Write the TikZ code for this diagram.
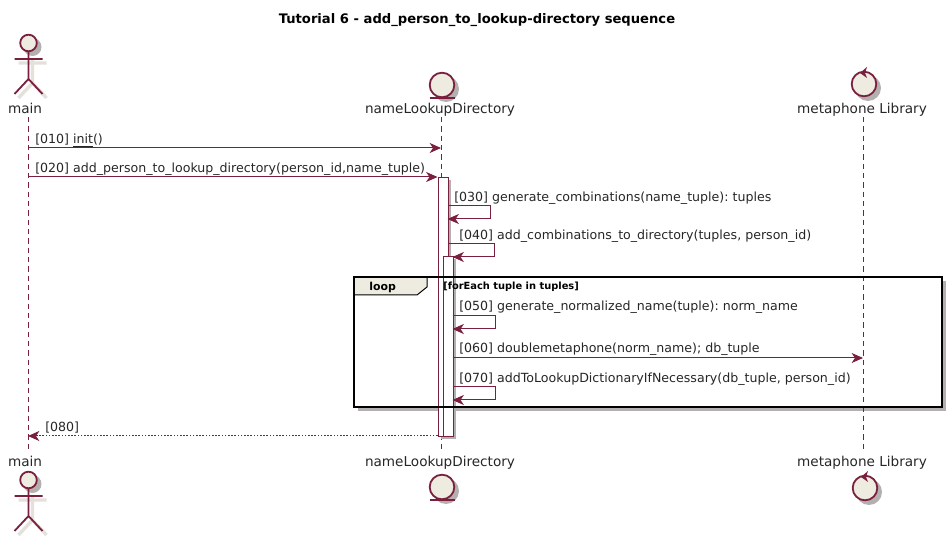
\documentclass[tikz,border=0pt]{standalone}
\usepackage{fontspec}
\setmainfont{DejaVu Sans}
\usetikzlibrary{arrows.meta}
\definecolor{umlred}{HTML}{7A1F3D}
\definecolor{umlfill}{HTML}{EEEBE0}
\definecolor{umlshadow}{HTML}{B5B0B0}
\definecolor{umlpale}{HTML}{E4E0DA}
\frenchspacing
\tikzset{
  x=0.75pt,y=-0.75pt,
  msg/.style={draw=umlred,line width=0.75pt,-{Stealth[length=8.5pt,width=7.5pt,inset=2.5pt]}},
  retmsg/.style={msg,dash pattern=on 1.2pt off 1.2pt},
  life/.style={draw=umlred,line width=0.7pt,dash pattern=on 4pt off 3pt},
  icon/.style={draw=umlred,fill=umlfill,line width=1.35pt},
  iconline/.style={draw=umlred,line width=1.35pt},
  shade/.style={fill=umlshadow,draw=none},
  shadeline/.style={draw=umlpale,line width=2.5pt},
  activ/.style={draw=umlred,fill=white,line width=0.75pt},
  lbl/.style={anchor=base west,inner sep=0pt,font=\fontsize{9.45pt}{11pt}\selectfont\frenchspacing,text=black!85},
  actorlbl/.style={anchor=base,inner sep=0pt,font=\fontsize{10.2pt}{12pt}\selectfont,text=black!85},
  looplbl/.style={anchor=base west,inner sep=0pt,font=\fontsize{7.4pt}{9pt}\selectfont\bfseries},
}
\newcommand{\drawactor}[2]{%
  \draw[shadeline] (#1+4,#2+15) -- (#1+4,#2+40) (#1-10,#2+20) -- (#1+18,#2+20) (#1+4,#2+40) -- (#1-10,#2+55) (#1+4,#2+40) -- (#1+18,#2+55);
  \fill[shade] (#1+4,#2+4) circle[radius=9];
  \draw[icon] (#1,#2) circle[radius=8.3];
  \draw[iconline] (#1,#2+8) -- (#1,#2+36) (#1-14,#2+16) -- (#1+14,#2+16) (#1,#2+36) -- (#1-14,#2+51) (#1,#2+36) -- (#1+14,#2+51);
}
\newcommand{\drawboundary}[2]{%
  \fill[shade] (#1+4,#2+4) circle[radius=13];
  \draw[icon] (#1,#2) circle[radius=12.3];
  \draw[iconline] (#1-12.5,#2+13) -- (#1+13,#2+13);
}
\newcommand{\drawcontrol}[2]{%
  \fill[shade] (#1+4,#2+4) circle[radius=13];
  \draw[icon] (#1,#2) circle[radius=12.3];
  \fill[umlred] (#1-4,#2-11) -- (#1+3,#2-17) -- (#1+1,#2-11) -- (#1+3,#2-6) -- cycle;
}
\begin{document}
\begin{tikzpicture}
\useasboundingbox (0,0) rectangle (951,541);
% title
\node[anchor=base,inner sep=0pt,font=\fontsize{9.85pt}{12pt}\selectfont\bfseries] (title) at (477,24) {Tutorial 6 - add\_person\_to\_lookup-directory sequence};
% participant labels
\node[actorlbl] (mainT) at (25,114) {main};
\node[actorlbl] (dirT) at (440,114) {nameLookupDirectory};
\node[actorlbl] (metaT) at (862,114) {metaphone Library};
\node[actorlbl] (mainB) at (25,467) {main};
\node[actorlbl] (dirB) at (440,467) {nameLookupDirectory};
\node[actorlbl] (metaB) at (862,467) {metaphone Library};
% loop frame shadow
\fill[umlshadow] (358,281) rectangle (946,411);
\fill[white] (354,277) rectangle (942,407);
% lifelines
\coordinate (mainLT) at (28,117); \coordinate (mainLB) at (28,452);
\coordinate (dirLT) at (441,117); \coordinate (dirLB) at (441,452);
\coordinate (metaLT) at (863,117); \coordinate (metaLB) at (863,452);
\draw[life] (mainLT) -- (mainLB);
\draw[life] (dirLT) -- (dirLB);
\draw[life] (metaLT) -- (metaLB);
% icons
\drawactor{28.5}{43}
\drawactor{28.5}{480}
\drawboundary{442}{85}
\drawboundary{442}{487}
\drawcontrol{864}{84}
\drawcontrol{865}{488}
% activations
\fill[umlshadow] (440.5,180) rectangle (450.5,439);
\fill[umlshadow] (445.5,259) rectangle (455.5,439);
\node[activ,draw,minimum width=7.5pt,minimum height=194.25pt,inner sep=0pt,anchor=north west] (act1) at (437.5,177) {};
\node[activ,draw,minimum width=7.5pt,minimum height=135pt,inner sep=0pt,anchor=north west] (act2) at (442.5,256) {};
\draw[draw=black,line width=1.5pt] (354,277) rectangle (942,407);
\draw[draw=black,fill=umlfill,line width=0.75pt] (354,277) -- (427,277) -- (427,287) -- (417,295) -- (354,295) -- cycle;
\draw[draw=black,line width=1.5pt] (354,277) -- (427,277) (354,277) -- (354,295);
\node[looplbl,font=\fontsize{8.2pt}{10pt}\selectfont\bfseries] (loopT) at (369,291) {loop};
\node[looplbl] (guard) at (443,290) {[forEach tuple in tuples]};
% messages
\coordinate (m1a) at (28,148); \coordinate (m1b) at (441,148);
\draw[msg] (m1a) -- (m1b);
\node[lbl] (t1) at (35,144) {[010] \underline{init}()};
\coordinate (m2a) at (28,177);
\draw[msg] (m2a) -- (act1.north west);
\node[lbl] (t2) at (35,173) {[020] add\_person\_to\_lookup\_directory(person\_id,name\_tuple)};
\coordinate (m3a) at (447.5,206); \coordinate (m3b) at (490,206); \coordinate (m3c) at (490,219); \coordinate (m3d) at (447.5,219);
\draw[msg] (m3a) -- (m3b) -- (m3c) -- (m3d);
\node[lbl] (t3) at (454,202) {[030] generate\_combinations(name\_tuple): tuples};
\coordinate (m4a) at (447.5,244); \coordinate (m4b) at (494.5,244); \coordinate (m4c) at (494.5,257); \coordinate (m4d) at (452.5,257);
\draw[msg] (m4a) -- (m4b) -- (m4c) -- (m4d);
\node[lbl] (t4) at (459,240) {[040] add\_combinations\_to\_directory(tuples, person\_id)};
\coordinate (m5a) at (452.5,316); \coordinate (m5b) at (495,316); \coordinate (m5c) at (495,329); \coordinate (m5d) at (452.5,329);
\draw[msg] (m5a) -- (m5b) -- (m5c) -- (m5d);
\node[lbl] (t5) at (459,311) {[050] generate\_normalized\_name(tuple): norm\_name};
\coordinate (m6a) at (452.5,358); \coordinate (m6b) at (863,358);
\draw[msg] (m6a) -- (m6b);
\node[lbl] (t6) at (459,353) {[060] doublemetaphone(norm\_name); db\_tuple};
\coordinate (m7a) at (452.5,387); \coordinate (m7b) at (495,387); \coordinate (m7c) at (495,400); \coordinate (m7d) at (452.5,400);
\draw[msg] (m7a) -- (m7b) -- (m7c) -- (m7d);
\node[lbl] (t7) at (459,383) {[070] addToLookupDictionaryIfNecessary(db\_tuple, person\_id)};
\coordinate (m8a) at (437.5,436); \coordinate (m8b) at (28,436);
\draw[retmsg] (m8a) -- (m8b);
\node[lbl] (t8) at (45,432) {[080]};
\end{tikzpicture}
\end{document}
